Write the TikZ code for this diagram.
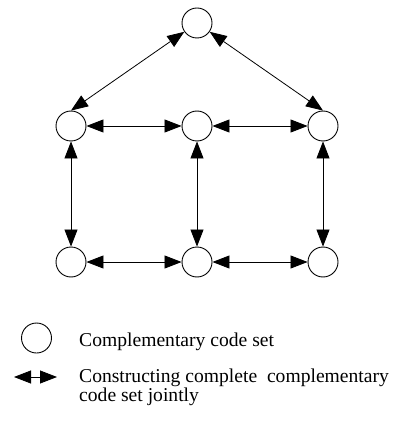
\documentclass[tikz,border=0pt]{standalone}
\usepackage{fontspec}
\setmainfont{Liberation Serif}
\usetikzlibrary{arrows.meta}
\begin{document}
\begin{tikzpicture}[x=1pt,y=-1pt,
  cset/.style={circle,draw,line width=0.9pt,minimum size=30pt,inner sep=0pt},
  link/.style={line width=0.8pt,{Triangle[length=17pt,width=13pt]}-{Triangle[length=17pt,width=13pt]}},
  lbl/.style={anchor=west,font=\fontsize{19.6}{19}\selectfont,inner sep=0pt,align=left}]
\useasboundingbox (0,0) rectangle (399,430);
\node[cset] (t) at (197,23) {};
\node[cset] (ml) at (71,126) {};
\node[cset] (mm) at (197,126) {};
\node[cset] (mr) at (323,126) {};
\node[cset] (bl) at (71,262) {};
\node[cset] (bm) at (197,262) {};
\node[cset] (br) at (323,262) {};
\draw[link] (t) -- (ml.north);
\draw[link] (t) -- (mr.north);
\draw[link] (ml) -- (mm);
\draw[link] (mm) -- (mr);
\draw[link] (bl) -- (bm);
\draw[link] (bm) -- (br);
\draw[link] (ml) -- (bl);
\draw[link] (mm) -- (bm);
\draw[link] (mr) -- (br);
\node[cset] (lc) at (36.5,338) {};
\node[lbl] (lt1) at (79,342) {Complementary code set};
\coordinate (la) at (14,377);
\coordinate (lb) at (57,377);
\draw[link] (la) -- (lb);
\node[lbl,anchor=north west] (lt2) at (79,369) {Constructing complete\ \ complementary\\code set jointly};
\end{tikzpicture}
\end{document}
